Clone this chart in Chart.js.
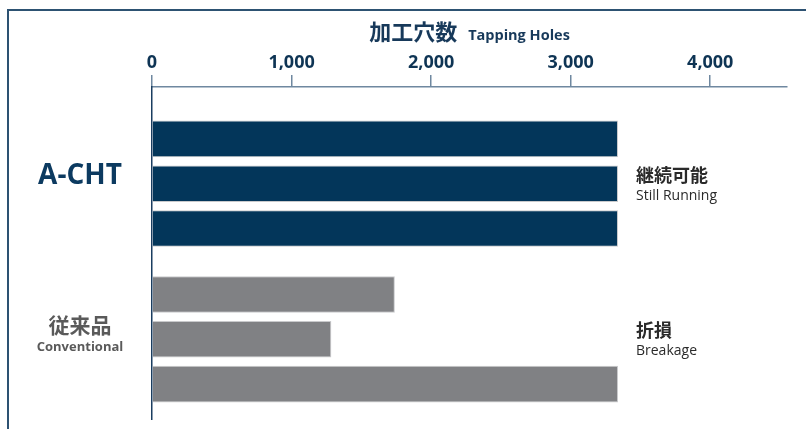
<!DOCTYPE html>
<html>
<head>
<meta charset="utf-8">
<script src="https://cdn.jsdelivr.net/npm/chart.js@4/dist/chart.umd.min.js"></script>
<style>
  html, body { margin:0; padding:0; background:#fff; overflow:hidden; }
  #wrap { position:relative; width:806px; height:429px; }
  #frame { position:absolute; left:7px; top:9px; width:900px; height:600px; border:2px solid #2d5272; box-sizing:border-box; }
  canvas { position:absolute; left:0; top:0; }
</style>
</head>
<body>
<div id="wrap">
  <div id="frame"></div>
  <canvas id="chart-holes" width="806" height="429"></canvas>
</div>
<script>
// ── Data ─────────────────────────────────────────────
const groups            = ['A-CHT', '従来品'];
const groupSubs         = ['', 'Conventional'];
const achtHoles         = [3339, 3339, 3339];
const conventionalHoles = [1740, 1285, 3339];
const statusJa          = ['継続可能', '折損'];
const statusEn          = ['Still Running', 'Breakage'];
const xTicks            = [0, 1000, 2000, 3000, 4000];

const C = { navy:'#03365a', gray:'#808184', edge:'#c9cacc', axis:'#6f88a0', ink:'#0e3454', grayText:'#5a5a5a', dark:'#2a2a2a' };
const FONT = '"Open Sans", "Noto Sans CJK JP", sans-serif';
const JFONT = '"Noto Sans CJK JP", "Open Sans", sans-serif';

// one dataset per trial, grouped by tool
const datasets = achtHoles.map((v, i) => ({
  label: 'Trial ' + (i + 1),
  data: [{ x: v, y: 0 }, { x: conventionalHoles[i], y: 1 }],
  backgroundColor: [C.navy, C.gray],
  borderColor: C.edge,
  borderWidth: 1,
  barPercentage: 0.817,
  categoryPercentage: 0.864,
}));

// title + side labels
const labelsPlugin = {
  id: 'sideLabels',
  afterDraw(chart) {
    const { ctx, scales:{ x, y }, chartArea } = chart;
    ctx.save();
    // title
    const t1 = '加工穴数', t2 = 'Tapping Holes';
    ctx.font = 'bold 22px ' + JFONT;
    const w1 = ctx.measureText(t1).width;
    ctx.font = 'bold 14.5px ' + FONT;
    const w2 = ctx.measureText(t2).width;
    const gap = 11;
    let tx = (chartArea.left + chartArea.right) / 2 - (w1 + gap + w2) / 2;
    ctx.fillStyle = '#17395a';
    ctx.textBaseline = 'alphabetic';
    ctx.textAlign = 'left';
    ctx.font = 'bold 22px ' + JFONT;
    ctx.fillText(t1, tx, 40);
    ctx.font = 'bold 14.5px ' + FONT;
    ctx.fillText(t2, tx + w1 + gap, 40);

    // left group names
    ctx.textAlign = 'center';
    ctx.textBaseline = 'middle';
    const y0 = y.getPixelForValue(0), y1 = y.getPixelForValue(1);
    ctx.fillStyle = '#0c3a60';
    ctx.font = 'bold 28px ' + FONT;
    ctx.fillText(groups[0], 80, y0 - 8);
    ctx.fillStyle = C.grayText;
    ctx.font = 'bold 21px ' + JFONT;
    ctx.fillText(groups[1], 80, y1 - 14);
    ctx.font = 'bold 13px ' + FONT;
    ctx.fillText(groupSubs[1], 80, y1 + 8);

    // right status
    const rx = x.getPixelForValue(Math.max(...achtHoles)) + 18;
    ctx.textAlign = 'left';
    [y0, y1].forEach((py, i) => {
      ctx.fillStyle = C.dark;
      ctx.font = 'bold 18px ' + JFONT;
      ctx.fillText(statusJa[i], rx, py - 9);
      ctx.font = '14px ' + FONT;
      ctx.fillText(statusEn[i], rx, py + 12);
    });
    ctx.restore();
  }
};

new Chart(document.getElementById('chart-holes'), {
  type: 'bar',
  data: { datasets },
  plugins: [labelsPlugin],
  options: {
    indexAxis: 'y',
    responsive: false,
    animation: false,
    layout: { padding: { left: 152, right: 19, top: 47, bottom: 10 } },
    plugins: { legend: { display: false }, tooltip: { enabled: false } },
    scales: {
      x: {
        type: 'linear', position: 'top', min: 0, max: 4550,
        afterBuildTicks: s => { s.ticks = xTicks.map(v => ({ value: v })); },
        afterFit: s => { s.height = 40; },
        grid: { drawOnChartArea: false, drawTicks: true, tickLength: 12, color: C.axis, lineWidth: 1.5 },
        border: { display: true, color: C.axis, width: 1.5 },
        ticks: { color: C.ink, padding: 1, font: { family: FONT, size: 18, weight: 'bold' },
                 callback: v => v.toLocaleString('en-US') },
      },
      y: {
        type: 'linear', reverse: true, min: -0.6215, max: 1.5122,
        offset: false, bounds: 'data',
        afterBuildTicks: s => { s.ticks = [{ value: 0 }, { value: 1 }]; },
        afterFit: s => { s.width = 0; },
        grid: { display: false, offset: false },
        border: { display: true, color: '#1a3d60', width: 1.5 },
        ticks: { display: false },
      },
    },
  },
});
</script>
</body>
</html>
